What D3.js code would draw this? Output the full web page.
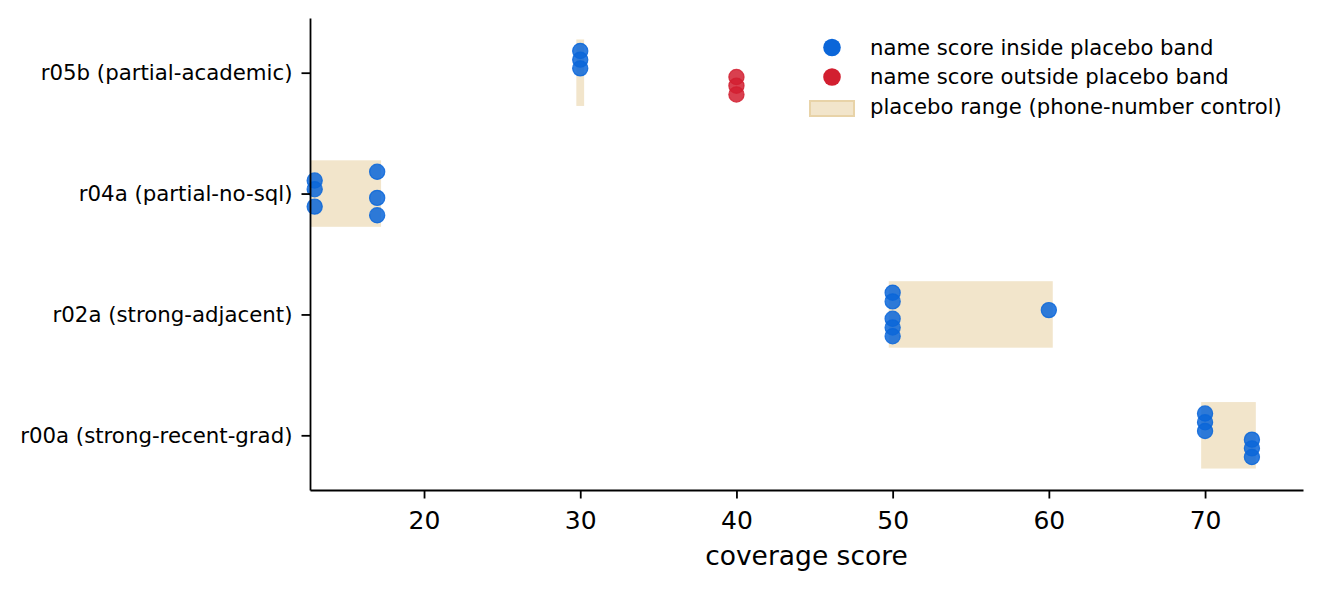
<!DOCTYPE html>
<html>
<head>
<meta charset="utf-8">
<script src="https://cdn.jsdelivr.net/npm/d3@7"></script>
<style>
  body { margin: 0; background: #fff; }
  text { font-family: "DejaVu Sans", sans-serif; fill: #000; }
</style>
</head>
<body>
<div id="chart"></div>
<script>
document.addEventListener("DOMContentLoaded", function() {

// categories, bottom to top
const categories = [
  "r00a (strong-recent-grad)",
  "r02a (strong-adjacent)",
  "r04a (partial-no-sql)",
  "r05b (partial-academic)"
];

// name scores per category (6 runs each)
const nameScores = [
  [70, 70, 70, 73, 73, 73],
  [50, 50, 60, 50, 50, 50],
  [17, 13, 13, 17, 13, 17],
  [30, 30, 30, 40, 40, 40]
];

// placebo band (phone-number control) per category
const placeboMin = [69.75, 49.75, 12.75, 29.75];
const placeboMax = [73.25, 60.25, 17.25, 30.25];

const xTicks = [20, 30, 40, 50, 60, 70];

const legendLabels = [
  "name score inside placebo band",
  "name score outside placebo band",
  "placebo range (phone-number control)"
];

const width = 1322;
const height = 591;
const left = 310, right = 1303, top = 18, bottom = 490;

const blue = "#0b66d9";
const red = "#d21f30";
const band = "#f2e5cb";

const x = d3.scaleLinear().domain([12.7, 76.27]).range([left, right]);
const y = d3.scaleLinear().domain([-0.4525, 3.4525]).range([bottom, top]);

const svg = d3.select("#chart")
  .append("svg")
  .attr("width", width)
  .attr("height", height);

const plot = svg.append("g");
svg.append("clipPath").attr("id", "clip")
  .append("rect")
  .attr("x", left).attr("y", top)
  .attr("width", right - left).attr("height", bottom - top);

// placebo bands
plot.append("g")
  .attr("clip-path", "url(#clip)")
  .selectAll("rect")
  .data(categories)
  .join("rect")
  .attr("x", (d, i) => x(placeboMin[i]))
  .attr("width", (d, i) => x(placeboMax[i]) - x(placeboMin[i]))
  .attr("y", (d, i) => y(i + 0.275))
  .attr("height", (d, i) => y(i - 0.275) - y(i + 0.275))
  .attr("fill", band);

// points, spread vertically by run
const pts = [];
nameScores.forEach((scores, i) => {
  scores.forEach((s, j) => {
    const off = 0.18 - j * 0.072;
    const inside = s >= placeboMin[i] && s <= placeboMax[i];
    pts.push({ cat: i, score: s, off: off, inside: inside });
  });
});

plot.append("g")
  .selectAll("circle")
  .data(pts)
  .join("circle")
  .attr("cx", d => x(d.score))
  .attr("cy", d => y(d.cat + d.off))
  .attr("r", 7.6)
  .attr("fill", d => d.inside ? blue : red)
  .attr("fill-opacity", 0.85)
  .attr("stroke", d => d.inside ? blue : red)
  .attr("stroke-opacity", 0.85)
  .attr("stroke-width", 1.2);

// axes
const xAxis = svg.append("g")
  .attr("transform", `translate(0,${bottom})`)
  .call(d3.axisBottom(x).tickValues(xTicks).tickSize(8.5).tickSizeOuter(0).tickPadding(13));
xAxis.select(".domain").attr("stroke-width", 1.8);
xAxis.selectAll(".tick line").attr("stroke-width", 1.8);
xAxis.selectAll(".tick text")
  .attr("font-size", "25px")
  .attr("font-family", "DejaVu Sans");

const yAxis = svg.append("g")
  .attr("transform", `translate(${left},0)`)
  .call(d3.axisLeft(y).tickValues(d3.range(categories.length))
    .tickFormat(i => categories[i]).tickSize(8.5).tickSizeOuter(0).tickPadding(9));
yAxis.select(".domain").attr("stroke-width", 1.8);
yAxis.selectAll(".tick line").attr("stroke-width", 1.8);
yAxis.selectAll(".tick text")
  .attr("font-size", "21.3px")
  .attr("font-family", "DejaVu Sans");

// x axis title
svg.append("text")
  .attr("x", (left + right) / 2)
  .attr("y", 565)
  .attr("text-anchor", "middle")
  .attr("font-size", "26.5px")
  .text("coverage score");

// legend
const legend = svg.append("g");
const rowY = [47.5, 77, 107];

legend.selectAll("text")
  .data(legendLabels)
  .join("text")
  .attr("x", 870)
  .attr("y", (d, i) => rowY[i])
  .attr("dy", "0.35em")
  .attr("font-size", "21.2px")
  .text(d => d);

legend.append("circle")
  .attr("cx", 832).attr("cy", rowY[0]).attr("r", 8.8)
  .attr("fill", blue);
legend.append("circle")
  .attr("cx", 832).attr("cy", rowY[1]).attr("r", 8.8)
  .attr("fill", red);
legend.append("rect")
  .attr("x", 810).attr("y", 101)
  .attr("width", 44).attr("height", 15)
  .attr("fill", band)
  .attr("stroke", "#e8d3a8")
  .attr("stroke-width", 2);

});
</script>
</body>
</html>
